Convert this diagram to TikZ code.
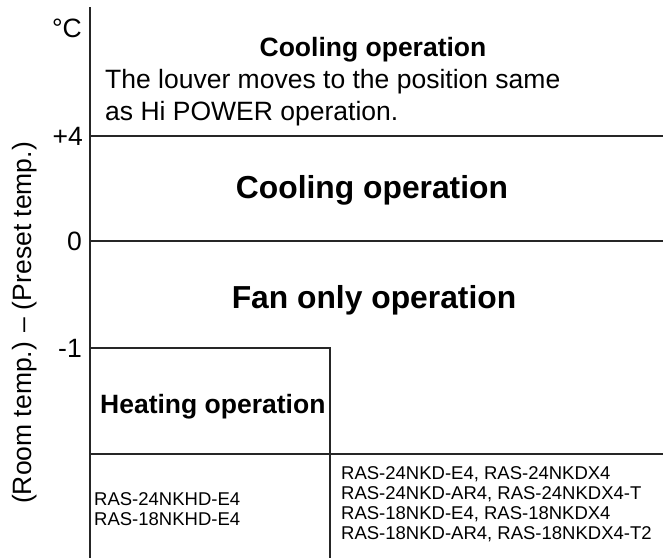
\documentclass[tikz,border=0pt]{standalone}
\usepackage{fontspec}
\setmainfont{Liberation Sans}
\tikzset{
  zone/.style={line width=1.2pt, draw=black!85},
  bigop/.style={font=\fontsize{31.8}{38}\selectfont\bfseries, inner sep=0pt, anchor=base},
  midop/.style={font=\fontsize{26.5}{32}\selectfont\bfseries, inner sep=0pt},
  plain/.style={font=\fontsize{26.5}{32}\selectfont, inner sep=0pt},
  model/.style={font=\fontsize{18.5}{20}\selectfont, inner sep=0pt, anchor=base west, align=left}
}
\begin{document}
\begin{tikzpicture}[x=1pt,y=-1pt]
        \useasboundingbox (0,0) rectangle (663,558);
        % axis and zone borders
        \coordinate (axtop) at (90,7);
        \coordinate (axbot) at (90,558);
        \draw [zone] (axtop) -- (axbot);
        \draw [zone] (90,136) -- (663,136);
        \draw [zone] (90,241) -- (663,241);
        \draw [zone] (90,348) -- (330,348) -- (330,558);
        \draw [zone] (90,454) -- (663,454);
        % axis labels
        \node [plain, anchor=base east] (unit) at (82,37) {°C};
        \node [plain, anchor=east] (tplus) at (83,136) {+4};
        \node [plain, anchor=east] (tzero) at (82,241) {0};
        \node [plain, anchor=east] (tminus) at (82,348) {-1};
        \node [plain, rotate=90] (axlabel) at (25,323) {(Room temp.) – (Preset temp.)};
        % zones (base of a two-line node is its last line)
        \node [midop, anchor=base] (coolhi) at (373,56) {Cooling operation};
        \node [plain, anchor=base west, align=left] (louver) at (105,120) {The louver moves to the position same\\as Hi POWER operation.};
        \node [bigop] (cool) at (372,198) {Cooling operation};
        \node [bigop] (fan) at (374,308) {Fan only operation};
        \node [midop, anchor=base west] (heat) at (100,413) {Heating operation};
        % models
        \node [model] (heatmodels) at (94,525) {RAS-24NKHD-E4\\RAS-18NKHD-E4};
        \node [model] (coolmodels) at (341,539) {RAS-24NKD-E4, RAS-24NKDX4\\RAS-24NKD-AR4, RAS-24NKDX4-T\\RAS-18NKD-E4, RAS-18NKDX4\\RAS-18NKD-AR4, RAS-18NKDX4-T2};
\end{tikzpicture}
\end{document}
